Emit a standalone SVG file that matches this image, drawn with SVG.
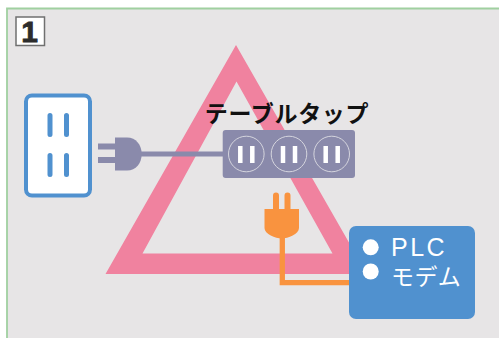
<svg xmlns="http://www.w3.org/2000/svg" width="499" height="338" viewBox="0 0 499 338">
<style>
.jp{font-family:"Noto Sans CJK JP","Liberation Sans",sans-serif}
.slot{stroke:#5091cf;stroke-width:5;stroke-linecap:round;fill:none}
.hole{stroke:#fff;stroke-width:4.500;fill:none}
.ring{fill:none;stroke:#d5d5de;stroke-width:1}
.dot{fill:#fff}
</style>
<rect width="499" height="338" fill="#fff"/>
<rect x="7" y="8.500" width="492" height="329.500" fill="#e7e5e6"/>
<path d="M499 8.500H7V338" fill="none" stroke="#a0d0a0" stroke-width="1.800"/>
<g id="badge">
<rect x="16" y="17" width="28.500" height="28.500" fill="#fff" stroke="#707070" stroke-width="1.500"/>
<text x="29.500" y="41.500" font-size="30" font-weight="700" text-anchor="middle" font-family="'Liberation Sans',sans-serif" fill="#2c2c2c" stroke="#2c2c2c" stroke-width="0.800">1</text>
</g>
<g id="triangle">
<path d="M236 45L367 274H105.500ZM236.500 81.500L142.500 253.500H332.500Z" fill="#f0829f" fill-rule="evenodd"/>
</g>
<g id="connectors">
<path d="M140 154H226" fill="none" stroke="#8a8aab" stroke-width="5"/>
<path d="M282.300 236V282.700H350" fill="none" stroke="#f9933f" stroke-width="5.300"/>
</g>
<g id="outlet">
<rect x="26" y="95.500" width="64" height="100" rx="6" fill="#fff" stroke="#5091cf" stroke-width="4"/>
<path class="slot" d="M50 115.500V134.500M66.500 115.500V134.500M50 155.500V174.500M66.500 155.500V174.500"/>
</g>
<g id="gray-plug">
<path d="M98 146.500H116M98 160H116" fill="none" stroke="#8a8aab" stroke-width="6"/>
<path d="M115 137.500H127C136 137.500 141.700 145 141.700 154C141.700 163 136 170.500 127 170.500H115Z" fill="#8a8aab"/>
</g>
<g id="power-strip">
<rect x="222.700" y="130" width="132.300" height="48" rx="3" fill="#8a8aab"/>
<circle class="ring" cx="246.300" cy="154" r="17.800"/>
<circle class="ring" cx="289" cy="154" r="17.800"/>
<circle class="ring" cx="331.700" cy="154" r="17.800"/>
<path class="hole" d="M240.300 146V163M252.300 146V163M283 146V163M295 146V163M325.700 146V163M337.700 146V163"/>
</g>
<g id="strip-label">
<text x="287" y="122" font-size="23" letter-spacing="0.700" font-weight="700" text-anchor="middle" class="jp" fill="#111">テーブルタップ</text>
</g>
<g id="orange-plug">
<path d="M276 195.500V212M287.500 195.500V212" fill="none" stroke="#f9933f" stroke-width="6" stroke-linecap="round"/>
<path d="M264.500 209H299V228C299 234 288 238.500 281.700 238.500C275.500 238.500 264.500 234 264.500 228Z" fill="#f9933f"/>
</g>
<g id="plc-modem">
<rect x="349" y="226" width="126" height="93" rx="7" fill="#5091cf"/>
<circle class="dot" cx="370.700" cy="247.300" r="8"/>
<circle class="dot" cx="370.700" cy="271.500" r="8"/>
<text x="391" y="256" font-size="25" letter-spacing="2.500" font-family="'Liberation Sans',sans-serif" fill="#fff">PLC</text>
<text x="391" y="285" font-size="23" letter-spacing="0.600" class="jp" fill="#fff">モデム</text>
</g>
</svg>
